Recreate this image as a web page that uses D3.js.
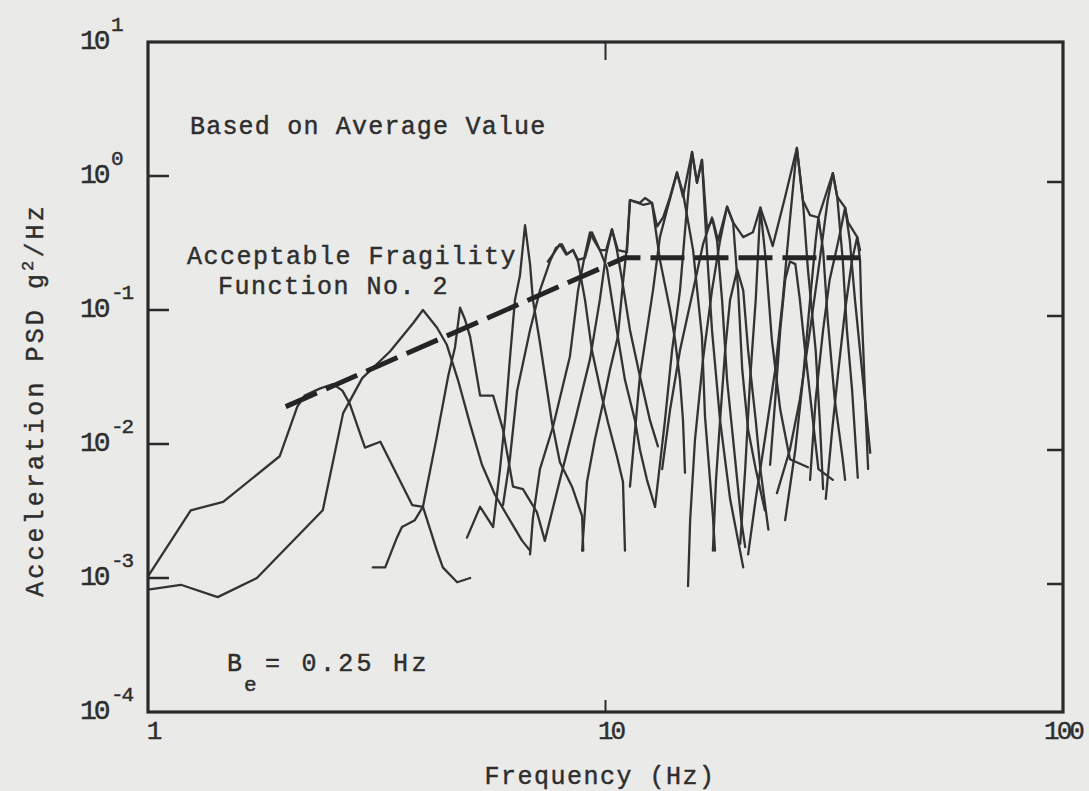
<!DOCTYPE html>
<html><head><meta charset="utf-8">
<script src="https://cdn.jsdelivr.net/npm/d3@7"></script>
<style>
html,body{margin:0;padding:0;background:#eaeae8;}
svg{display:block;}
text{font-family:"Liberation Mono","DejaVu Sans Mono",monospace;fill:#2e2e2e;stroke:#2e2e2e;stroke-width:0.45px;}
</style></head><body>
<svg id="chart" width="1089" height="791"></svg>
<script>
// ---- axis ticks ----
const xTickValues = [1, 10, 100];
const xTickLabels = ["1", "10", "100"];
const yTickValues = [10, 1, 0.1, 0.01, 0.001, 0.0001];
const yTickExponents = ["1", "0", "-1", "-2", "-3", "-4"];

// ---- Acceptable Fragility Function No. 2 (Hz, g^2/Hz) ----
const fragility = [[2.0, 0.019], [11.0, 0.245], [36.0, 0.245]];

// ---- narrowband PSD traces (Hz, g^2/Hz) ----
const curve1 = [[1.0,1.03e-3],[1.24,3.2e-3],[1.46,3.7e-3],[1.94,8.1e-3],[2.12,1.9e-2],[2.20,2.3e-2],[2.38,2.6e-2],[2.54,2.8e-2],[2.66,2.5e-2],[2.76,2.0e-2],[2.98,9.4e-3],[3.22,1.04e-2],[3.78,3.5e-3],[3.99,3.4e-3],[4.28,1.6e-3],[4.41,1.2e-3],[4.74,9.3e-4],[5.06,1.0e-3]];
const curve2 = [[1.0,8.2e-4],[1.18,8.9e-4],[1.42,7.2e-4],[1.73,1.0e-3],[2.41,3.2e-3],[2.67,1.7e-2],[2.94,3.1e-2],[3.38,4.9e-2],[3.80,8.0e-2],[3.99,0.10],[4.28,7.4e-2],[4.50,5.5e-2],[4.76,3.0e-2],[5.06,1.4e-2],[5.37,7.0e-3],[5.73,4.2e-3],[6.18,2.7e-3],[6.57,1.9e-3],[6.84,1.6e-3]];
const curve3 = [[3.10,1.2e-3],[3.30,1.2e-3],[3.50,2.0e-3],[3.59,2.4e-3],[3.83,2.7e-3],[3.99,3.4e-3],[4.28,1.14e-2],[4.53,3.2e-2],[4.69,5.3e-2],[4.81,0.104],[4.93,8.5e-2],[5.06,6.3e-2],[5.32,2.3e-2],[5.68,2.3e-2],[5.97,1.28e-2],[6.28,4.8e-3],[6.60,4.6e-3],[7.08,3.1e-3],[7.37,1.9e-3]];
const curve4 = [[4.98,2.0e-3],[5.32,3.4e-3],[5.68,2.4e-3],[5.88,6.5e-3],[6.03,1.5e-2],[6.18,4.3e-2],[6.34,0.119],[6.50,0.18],[6.67,0.43],[6.84,0.22],[6.94,0.119],[7.19,0.057],[7.64,1.44e-2],[7.95,7.3e-3],[8.45,4.8e-3],[8.89,2.9e-3],[8.94,1.6e-3]];
const curve5 = [[5.97,3.5e-3],[6.18,7.7e-3],[6.41,2.5e-2],[6.84,7.1e-2],[7.19,0.14],[7.56,0.23],[7.79,0.29],[8.03,0.31],[8.24,0.26],[8.49,0.28],[8.71,0.23],[9.02,0.119],[9.34,5.0e-2],[9.82,2.25e-2],[10.13,1.44e-2],[10.59,8.1e-3],[10.92,5.2e-3],[11.03,1.6e-3]];
const curve6 = [[6.84,1.5e-3],[6.94,2.8e-3],[7.19,6.5e-3],[7.68,1.35e-2],[8.36,4.5e-2],[8.71,0.14],[9.02,0.26],[9.25,0.38],[9.44,0.33],[9.72,0.28],[10.07,0.206],[10.49,8.5e-2],[11.03,3.0e-2],[11.60,1.5e-2],[11.89,9.1e-3],[12.32,5.4e-3],[12.83,3.4e-3]];
const curve7 = [[7.37,1.9e-3],[7.95,5.4e-3],[8.58,1.5e-2],[9.25,4.3e-2],[9.72,0.119],[10.03,0.26],[10.33,0.40],[10.59,0.28],[10.87,0.168],[11.31,7.1e-2],[11.89,3.2e-2],[12.51,1.5e-2],[13.02,9.6e-3]];
const curve8 = [[8.89,1.6e-3],[9.11,5.2e-3],[9.48,1.08e-2],[9.87,2.0e-2],[10.23,3.6e-2],[10.64,6.3e-2],[10.92,0.16],[11.14,0.30],[11.31,0.66],[11.89,0.63],[12.20,0.685],[12.64,0.63],[12.83,0.43],[13.15,0.237],[13.49,0.154],[13.84,0.10],[14.19,6.0e-2],[14.55,3.0e-2],[14.77,1.5e-2],[14.92,6.1e-3]];
const curve9 = [[11.31,4.8e-3],[11.89,3.2e-2],[12.70,0.14],[13.15,0.35],[13.63,0.56],[14.33,1.05],[14.77,0.75],[15.54,0.28],[16.25,6.3e-2],[16.50,1.6e-2],[17.17,2.9e-3],[17.35,1.6e-3]];
const curve10 = [[12.83,3.4e-3],[13.49,1.5e-2],[13.98,5.0e-2],[14.55,0.14],[14.99,0.47],[15.46,1.51],[15.85,0.89],[16.25,1.32],[16.66,0.28],[17.09,7.1e-2],[17.80,1.5e-2],[18.72,3.9e-3],[20.0,1.2e-3]];
const curve11 = [[15.15,8.7e-4],[15.31,2.7e-3],[15.69,1.08e-2],[16.34,4.3e-2],[17.09,0.14],[17.80,0.33],[18.44,0.59],[19.01,0.45],[19.50,0.14],[19.90,3.6e-2],[20.5,1.28e-2],[21.3,6.5e-3],[22.3,3.2e-3]];
const curve12 = [[13.3,6.5e-3],[13.84,1.8e-2],[14.55,5.0e-2],[15.54,0.14],[16.34,0.31],[17.09,0.49],[17.53,0.33],[17.98,0.119],[18.44,3.0e-2],[19.20,7.7e-3],[19.8,2.7e-3],[20.2,1.7e-3]];
const curve13 = [[17.17,1.6e-3],[17.44,5.4e-3],[17.80,1.5e-2],[18.26,5.0e-2],[18.72,0.119],[19.40,0.20],[20.0,0.14],[20.5,5.0e-2],[21.3,1.5e-2],[21.8,6.5e-3],[22.7,2.3e-3]];
const curve14 = [[19.7,1.8e-3],[20.2,6.5e-3],[20.7,3.0e-2],[21.3,0.119],[21.8,0.58],[22.4,0.237],[23.1,6.0e-2],[24.1,1.8e-2],[25.3,7.7e-3],[27.7,6.7e-3]];
const curve15 = [[20.5,1.5e-3],[21.3,3.9e-3],[22.3,1.08e-2],[23.5,3.6e-2],[24.4,0.119],[25.3,0.47],[26.2,1.62],[27.0,0.66],[27.7,0.20],[28.8,5.0e-2],[29.4,1.5e-2],[29.9,4.6e-3]];
const curve16 = [[22.9,7.0e-3],[23.5,2.15e-2],[24.1,7.1e-2],[24.7,0.168],[25.3,0.23],[26.0,0.22],[26.6,0.119],[27.3,5.0e-2],[28.4,1.5e-2],[29.2,6.5e-3],[31.4,5.4e-3]];
const curve17 = [[23.7,4.3e-3],[25.3,9.1e-3],[26.6,2.15e-2],[28.0,7.1e-2],[29.4,0.237],[30.6,0.66],[31.4,1.05],[32.1,0.70],[33.0,0.237],[33.7,7.1e-2],[34.6,2.5e-2],[35.6,5.6e-3]];
const curve18 = [[24.7,2.7e-3],[26.0,9.1e-3],[27.0,3.0e-2],[28.0,0.119],[28.8,0.33],[29.2,0.49],[29.9,0.28],[30.6,8.5e-2],[31.7,2.15e-2],[33.0,7.7e-3],[33.4,5.4e-3]];
const curve19 = [[28.0,5.4e-3],[28.8,2.15e-2],[29.9,7.1e-2],[30.9,0.168],[32.3,0.33],[33.4,0.58],[34.2,0.33],[35.1,0.119],[36.0,5.0e-2],[36.9,2.15e-2],[37.9,8.6e-3]];
const curve20 = [[30.3,3.9e-3],[31.3,1.28e-2],[32.3,3.6e-2],[33.4,0.10],[34.6,0.237],[35.5,0.35],[36.0,0.237],[36.2,0.119],[36.6,5.0e-2],[37.1,1.5e-2],[37.5,6.5e-3]];
// jagged upper trace across the peaks
const envelope = [[7.48,0.23],[7.68,0.26],[7.95,0.31],[8.20,0.26],[8.49,0.28],[8.71,0.237],[9.02,0.245],[9.34,0.38],[9.72,0.28],[10.03,0.28],[10.33,0.40],[10.64,0.28],[11.14,0.27],[11.31,0.66],[12.08,0.61],[12.64,0.63],[12.96,0.42],[13.36,0.49],[13.84,0.70],[14.33,1.07],[14.77,0.70],[15.46,1.51],[15.85,0.89],[16.25,1.32],[16.66,0.41],[17.17,0.47],[17.62,0.33],[18.44,0.59],[19.01,0.45],[20.0,0.35],[21.0,0.38],[21.8,0.58],[22.5,0.42],[23.2,0.30],[24.7,0.70],[26.2,1.62],[27.0,0.66],[28.0,0.51],[29.2,0.49],[31.4,1.05],[32.1,0.70],[33.4,0.58],[33.9,0.45],[35.5,0.35],[36.0,0.28]];

const curves = [curve1,curve2,curve3,curve4,curve5,curve6,curve7,curve8,curve9,curve10,
  curve11,curve12,curve13,curve14,curve15,curve16,curve17,curve18,curve19,curve20,envelope];

// ---- layout ----
const L = 148, R = 1063, T = 42, B = 712;
const ink = "#2a2a2a";
const svg = d3.select("#chart");
svg.append("rect").attr("width",1089).attr("height",791).attr("fill","#eaeae8");

const x = d3.scaleLog().domain([1,100]).range([L,R]);
const y = d3.scaleLog().domain([1e-4,10]).range([B,T]);

const line = d3.line().x(d=>x(d[0])).y(d=>y(d[1])).curve(d3.curveLinear);

const g = svg.append("g");
g.selectAll("path.trace").data(curves).enter().append("path")
  .attr("class","trace")
  .attr("d", line)
  .attr("fill","none")
  .attr("stroke","#333")
  .attr("stroke-width",2.3)
  .attr("stroke-linejoin","round")
  .attr("stroke-linecap","round");

// fragility function, dashed
g.append("path").datum(fragility)
  .attr("d", line)
  .attr("fill","none")
  .attr("stroke","#242424")
  .attr("stroke-width",5)
  .attr("stroke-dasharray","34 10");

// frame
svg.append("rect").attr("x",L).attr("y",T).attr("width",R-L).attr("height",B-T)
  .attr("fill","none").attr("stroke",ink).attr("stroke-width",3.2);

// y ticks (inward, both sides)
const inner = yTickValues.filter(v => v < 10 && v > 1e-4);
svg.selectAll("line.ylt").data(inner).enter().append("line")
  .attr("x1",L).attr("x2",L+21).attr("y1",d=>y(d)).attr("y2",d=>y(d))
  .attr("stroke",ink).attr("stroke-width",2.5);
svg.selectAll("line.yrt").data(inner).enter().append("line")
  .attr("x1",R).attr("x2",R-16).attr("y1",d=>y(d)+6).attr("y2",d=>y(d)+6)
  .attr("stroke",ink).attr("stroke-width",2.5);
// x tick at 10 (top and bottom)
const xInner = xTickValues.filter(v => v > 1 && v < 100);
svg.selectAll("line.xtt").data(xInner).enter().append("line")
  .attr("x1",d=>x(d)).attr("x2",d=>x(d)).attr("y1",T).attr("y2",T+18)
  .attr("stroke",ink).attr("stroke-width",2);
svg.selectAll("line.xbt").data(xInner).enter().append("line")
  .attr("x1",d=>x(d)).attr("x2",d=>x(d)).attr("y1",B).attr("y2",B-12)
  .attr("stroke",ink).attr("stroke-width",2);

// y tick labels: 10 with exponent
const yl = svg.selectAll("g.ylab").data(yTickValues).enter().append("g");
yl.append("text").attr("x",80).attr("y",d=>y(d)+7)
  .attr("font-size",28).attr("letter-spacing",-3).text("10");
yl.append("text").attr("x",111).attr("y",d=>y(d)-11)
  .attr("font-size",21).attr("letter-spacing",-2).text((d,i)=>yTickExponents[i]);

// x tick labels
svg.selectAll("text.xlab").data(xTickValues).enter().append("text")
  .attr("x",(d,i)=>x(d)+(i===2?0:5)).attr("y",739)
  .attr("text-anchor","middle").attr("font-size",26).attr("letter-spacing",-3)
  .text((d,i)=>xTickLabels[i]);

// axis titles
svg.append("text").attr("x",600).attr("y",784).attr("text-anchor","middle")
  .attr("font-size",25).attr("letter-spacing",1.5).text("Frequency (Hz)");

const yt = svg.append("text").attr("transform","translate(43,400) rotate(-90)")
  .attr("text-anchor","middle").attr("font-size",25).attr("letter-spacing",3.1);
yt.append("tspan").text("Acceleration PSD g");
yt.append("tspan").attr("dy",-10).attr("font-size",17).text("2");
yt.append("tspan").attr("dy",10).text("/Hz");

// annotations
svg.append("text").attr("x",190).attr("y",134).attr("font-size",25).attr("letter-spacing",1.2)
  .text("Based on Average Value");
svg.append("text").attr("x",187).attr("y",264).attr("font-size",25).attr("letter-spacing",1.5)
  .text("Acceptable Fragility");
svg.append("text").attr("x",218).attr("y",294).attr("font-size",25).attr("letter-spacing",1.5)
  .text("Function No. 2");
svg.append("text").attr("x",227).attr("y",671).attr("font-size",25).text("B");
svg.append("text").attr("x",244).attr("y",691).attr("font-size",21).text("e");
svg.append("text").attr("x",265).attr("y",671).attr("font-size",25).attr("letter-spacing",3.3)
  .text("= 0.25 Hz");
</script>
</body></html>
